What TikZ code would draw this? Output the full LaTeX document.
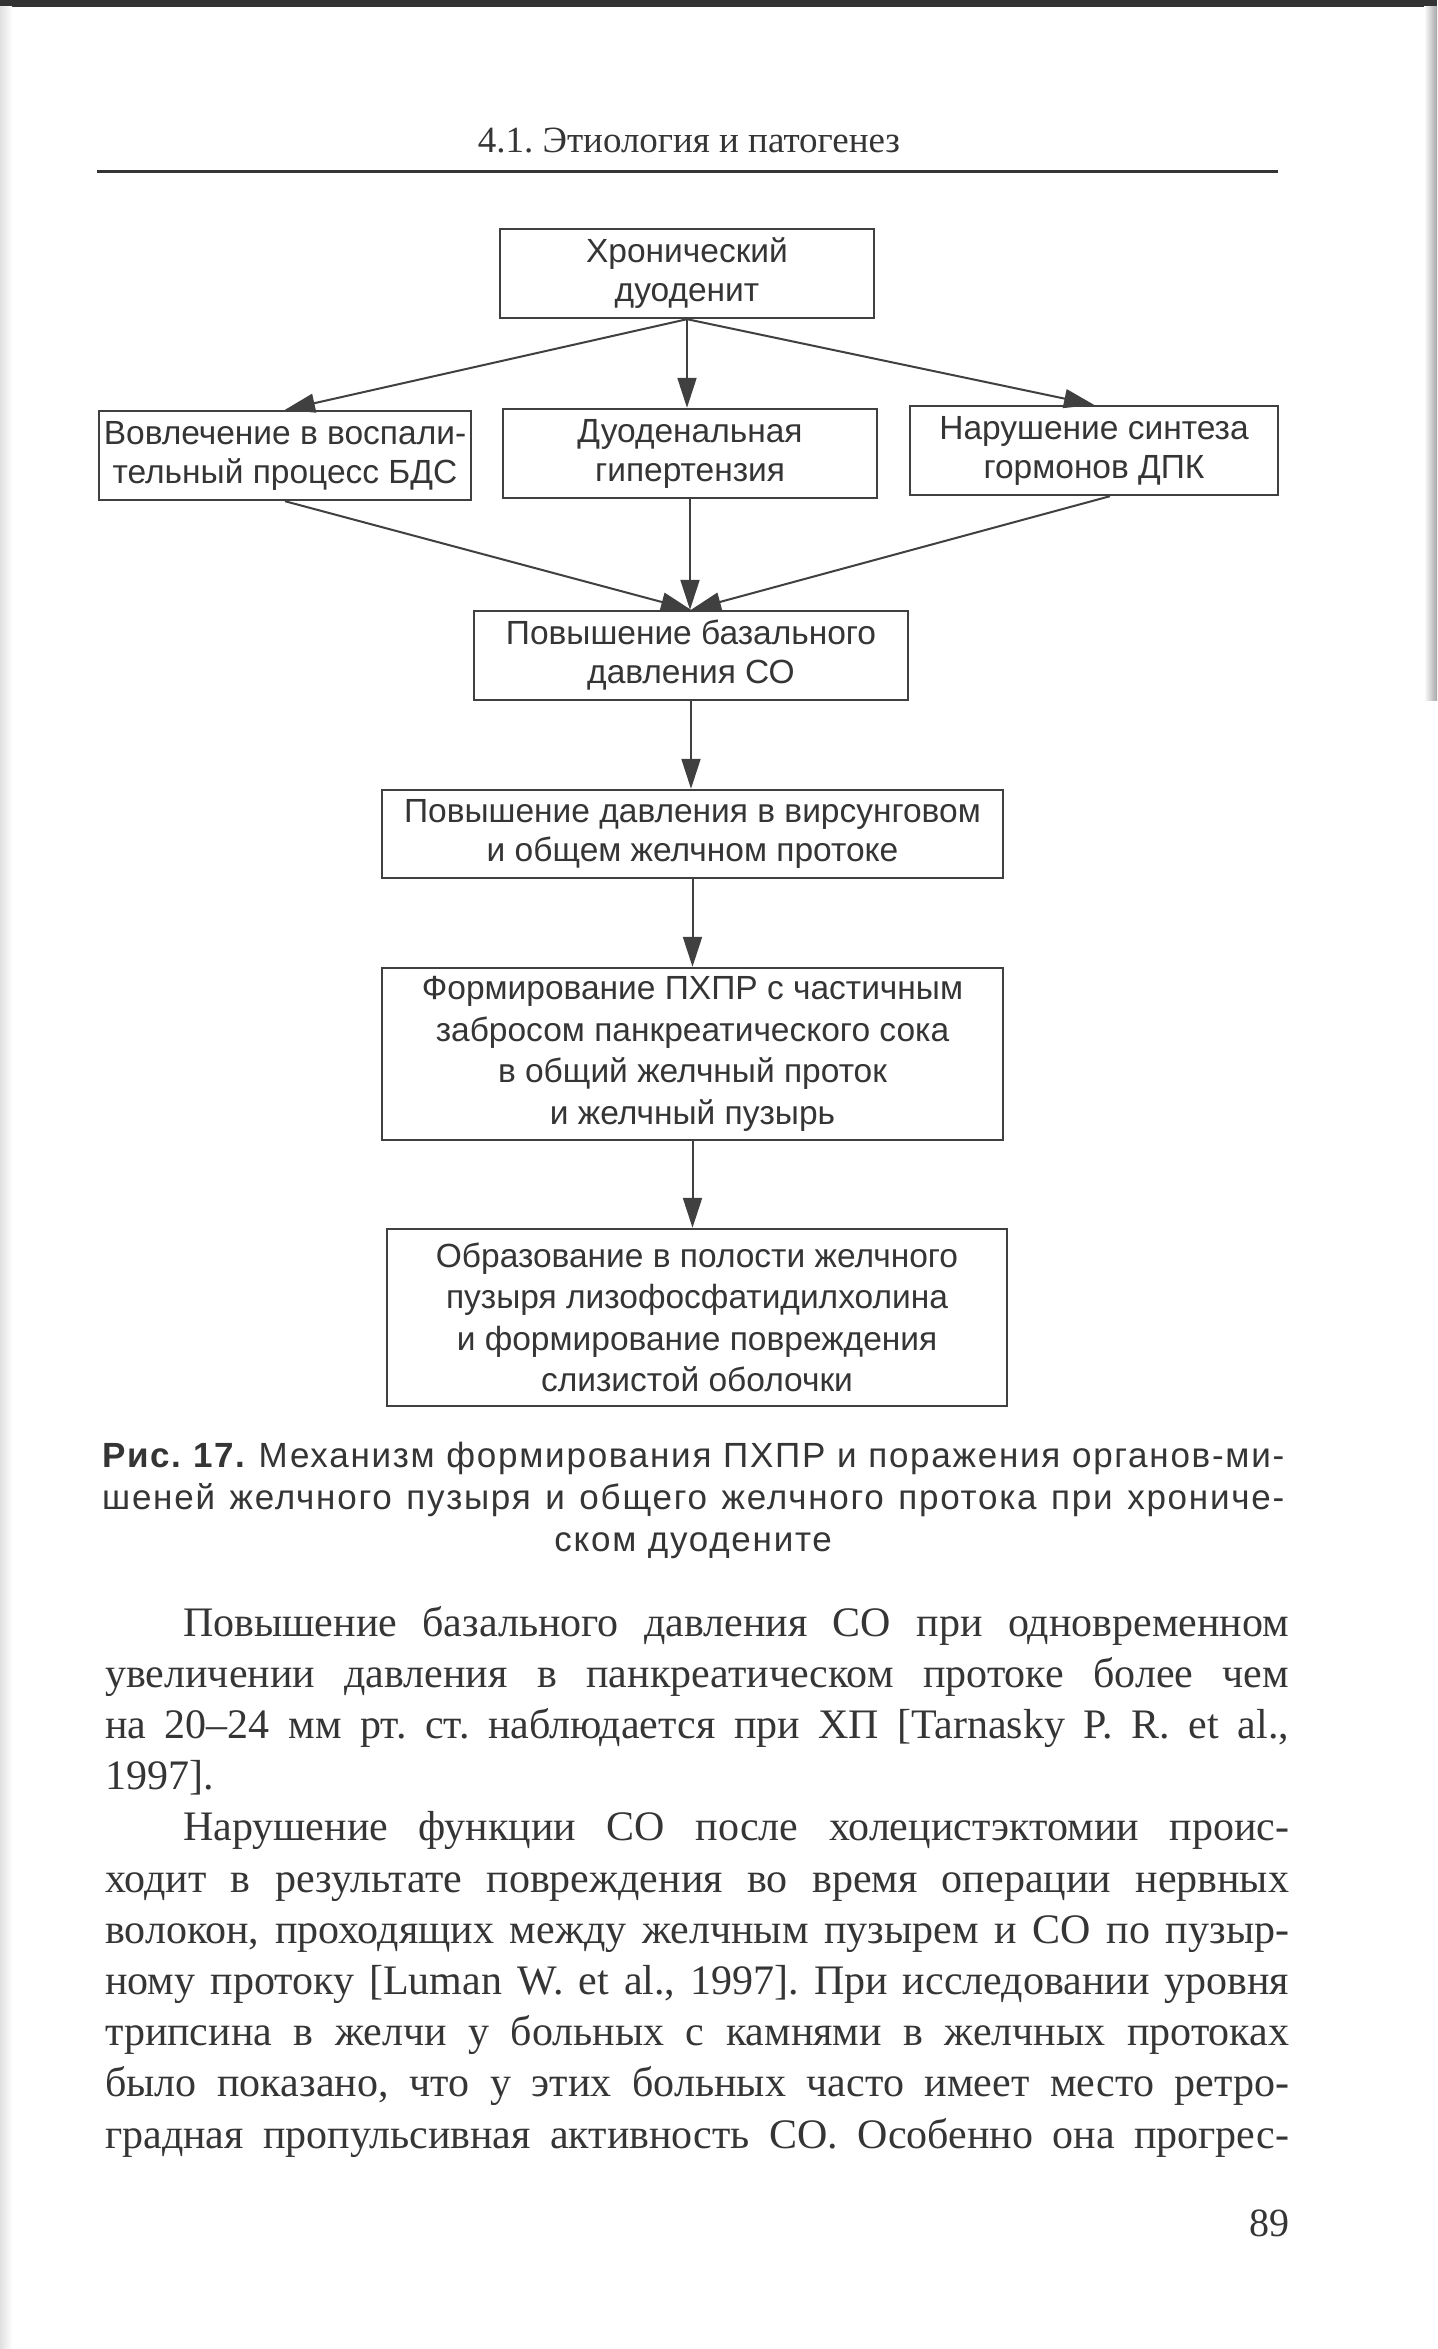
\documentclass[tikz,border=0pt]{standalone}
\usepackage{fontspec}
\setmainfont{Liberation Serif}
\setsansfont{Liberation Sans}
\usepackage{xcolor}
\usepackage{tikz}
\usetikzlibrary{positioning,calc,arrows.meta}

\definecolor{ink}{HTML}{353535}
\definecolor{boxline}{HTML}{404040}
\frenchspacing

\begin{document}
\begin{tikzpicture}[x=1pt,y=-1pt,
    stepbox/.style={draw=boxline, line width=2.4pt, inner sep=0pt, align=center,
        text=ink, font=\sffamily\fontsize{33.5}{39}\selectfont},
    tallbox/.style={stepbox, font=\sffamily\fontsize{33.5}{41.5}\selectfont},
    flow/.style={draw=boxline, line width=2pt, -{Triangle[length=30pt,width=19pt]}},
    plain/.style={inner sep=0pt, text=ink}]
    \useasboundingbox (0,0) rectangle (1437,2349);
    \fill[white] (0,0) rectangle (1437,2349);
    % scan edges
    \fill[black!80] (0,0) rectangle (1437,7);
    \shade[left color=white, right color=black!35] (1424,7) rectangle (1437,700);
    \shade[left color=black!12, right color=white] (0,7) rectangle (12,2349);

    % running head
    \node[plain, anchor=base, font=\fontsize{37}{42}\selectfont] (head) at (689,153) {4.1. Этиология и патогенез};
    \draw[ink, line width=3pt] (97,172) -- (1278,172);

    % boxes
    \node[stepbox, minimum width=374pt, minimum height=89pt] (chron) at (687,273.5) {Хронический\\дуоденит};
    \node[stepbox, minimum width=372pt, minimum height=89pt] (invol) at (285,455.5) {Вовлечение в воспали-\\тельный процесс БДС};
    \node[stepbox, minimum width=374pt, minimum height=89pt] (hyper) at (690,453.5) {Дуоденальная\\гипертензия};
    \node[stepbox, minimum width=368pt, minimum height=89pt] (horm) at (1094,450.5) {Нарушение синтеза\\гормонов ДПК};
    \node[stepbox, minimum width=434pt, minimum height=89pt] (basal) at (691,655.5) {Повышение базального\\давления СО};
    \node[stepbox, minimum width=621pt, minimum height=88pt] (press) at (692.5,834) {Повышение давления в вирсунговом\\и общем желчном протоке};
    \node[tallbox, minimum width=621pt, minimum height=172pt] (form) at (692.5,1054) {Формирование ПХПР с частичным\\забросом панкреатического сока\\в общий желчный проток\\и желчный пузырь};
    \node[tallbox, minimum width=620pt, minimum height=177pt] (obraz) at (697,1317.5) {Образование в полости желчного\\пузыря лизофосфатидилхолина\\и формирование повреждения\\слизистой оболочки};

    % arrows
    \draw[flow] (chron.south) -- (invol.north);
    \draw[flow] (chron.south) -- (chron.south |- hyper.north);
    \draw[flow] (chron.south) -- (horm.north);
    \draw[flow] (invol.south) -- (basal.north);
    \draw[flow] (hyper.south) -- (hyper.south |- basal.north);
    \draw[flow] ([xshift=16pt]horm.south) -- (basal.north);
    \draw[flow] (basal.south) -- (basal.south |- press.north);
    \draw[flow] (press.south) -- (press.south |- form.north);
    \draw[flow] (form.south) -- (form.south |- obraz.north);

    % caption
    \node[plain, anchor=base west, text width=1182pt, align=justify,
        font=\sffamily\fontsize{35}{42}\selectfont\addfontfeatures{LetterSpace=5}] (caption) at (102,1467)
        {\hyphenpenalty=10000 \tolerance=10000 \rightskip=0pt
        \textbf{Рис. 17.} Механизм формирования ПХПР и поражения органов-ми-\linebreak
        шеней желчного пузыря и общего желчного протока при хрониче-\linebreak
        \hspace*{\fill}ском дуодените\hspace*{\fill}\parfillskip=0pt\par};

    % body text
    \node[plain, anchor=base west, text width=1184pt, align=justify,
        font=\fontsize{42}{51.2}\selectfont] (body) at (105,1636)
        {\hyphenpenalty=10000 \exhyphenpenalty=10000 \tolerance=10000 \rightskip=0pt
        \hspace*{78pt}Повышение базального давления СО при одновременном\linebreak
        увеличении давления в панкреатическом протоке более чем\linebreak
        на 20–24 мм рт. ст. наблюдается при ХП [Tarnasky P. R. et al.,\linebreak
        1997].\par
        \hspace*{78pt}Нарушение функции СО после холецистэктомии проис-\linebreak
        ходит в результате повреждения во время операции нервных\linebreak
        волокон, проходящих между желчным пузырем и СО по пузыр-\linebreak
        ному протоку [Luman W. et al., 1997]. При исследовании уровня\linebreak
        трипсина в желчи у больных с камнями в желчных протоках\linebreak
        было показано, что у этих больных часто имеет место ретро-\linebreak
        градная пропульсивная активность СО. Особенно она прогрес-\parfillskip=0pt\par};

    % page number
    \node[plain, anchor=base east, font=\fontsize{40}{44}\selectfont] (folio) at (1290,2236) {89};
\end{tikzpicture}
\end{document}
